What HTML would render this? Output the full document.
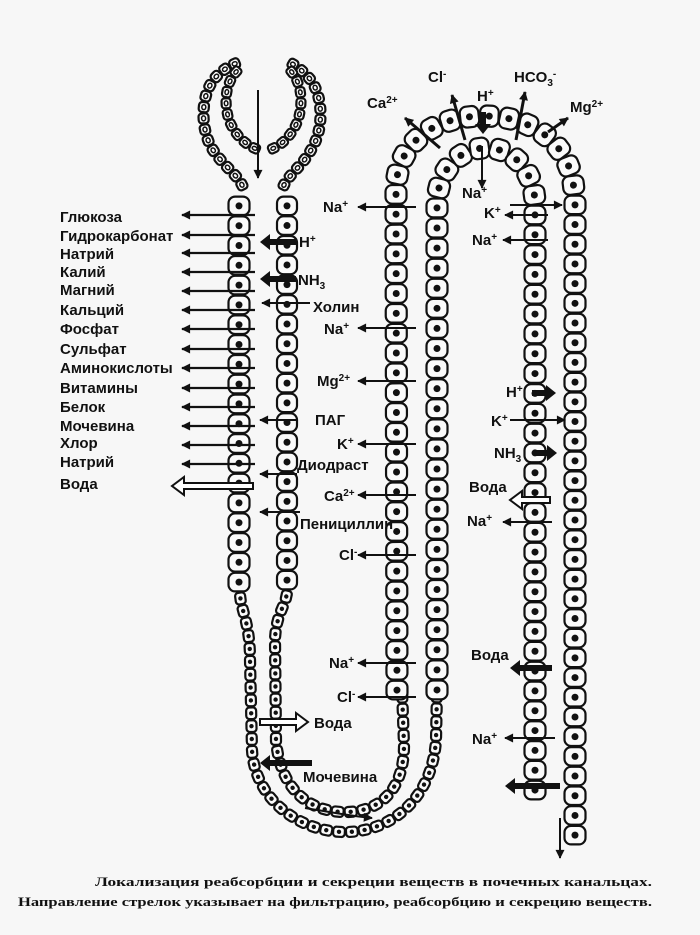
<!DOCTYPE html>
<html><head><meta charset="utf-8">
<style>
html,body{margin:0;padding:0;background:#f7f7f7;}
svg{display:block;}
text{font-family:"Liberation Sans","Noto Sans CJK SC",sans-serif;font-weight:bold;fill:#111;}
.cap{font-family:"Liberation Serif","Noto Serif CJK SC",serif;font-weight:bold;font-size:13px;}
</style></head>
<body>
<svg id="s" width="700" height="935" viewBox="0 0 700 935" xmlns="http://www.w3.org/2000/svg">
<defs>
<marker id="ah" viewBox="0 0 10 10" refX="9" refY="5" markerWidth="13" markerHeight="9" orient="auto-start-reverse" markerUnits="userSpaceOnUse">
<path d="M0,0 L10,5 L0,10 z" fill="#111"/></marker>
</defs>
<g id="cells"></g>
<g id="arrows" stroke="#111" fill="none"></g>
<g font-size="15">
<text x="60" y="222">Глюкоза</text>
<text x="60" y="241">Гидрокарбонат</text>
<text x="60" y="259">Натрий</text>
<text x="60" y="277">Калий</text>
<text x="60" y="295">Магний</text>
<text x="60" y="315">Кальций</text>
<text x="60" y="334">Фосфат</text>
<text x="60" y="354">Сульфат</text>
<text x="60" y="373">Аминокислоты</text>
<text x="60" y="393">Витамины</text>
<text x="60" y="412">Белок</text>
<text x="60" y="431">Мочевина</text>
<text x="60" y="448">Хлор</text>
<text x="60" y="467">Натрий</text>
<text x="60" y="489">Вода</text>

<text x="299" y="247">H<tspan font-size="10" dy="-5">+</tspan></text>
<text x="298" y="285">NH<tspan font-size="10" dy="4">3</tspan></text>
<text x="313" y="312">Холин</text>
<text x="315" y="425">ПАГ</text>
<text x="297" y="470">Диодраст</text>
<text x="300" y="529">Пенициллин</text>

<text x="323" y="212">Na<tspan font-size="10" dy="-5">+</tspan></text>
<text x="324" y="334">Na<tspan font-size="10" dy="-5">+</tspan></text>
<text x="317" y="386">Mg<tspan font-size="10" dy="-5">2+</tspan></text>
<text x="337" y="449">K<tspan font-size="10" dy="-5">+</tspan></text>
<text x="324" y="501">Ca<tspan font-size="10" dy="-5">2+</tspan></text>
<text x="339" y="560">Cl<tspan font-size="10" dy="-5">-</tspan></text>
<text x="329" y="668">Na<tspan font-size="10" dy="-5">+</tspan></text>
<text x="337" y="702">Cl<tspan font-size="10" dy="-5">-</tspan></text>
<text x="314" y="728">Вода</text>
<text x="303" y="782">Мочевина</text>

<text x="367" y="108">Ca<tspan font-size="10" dy="-5">2+</tspan></text>
<text x="428" y="82">Cl<tspan font-size="10" dy="-5">-</tspan></text>
<text x="477" y="101">H<tspan font-size="10" dy="-5">+</tspan></text>
<text x="514" y="82">HCO<tspan font-size="10" dy="4">3</tspan><tspan font-size="10" dy="-9">-</tspan></text>
<text x="570" y="112">Mg<tspan font-size="10" dy="-5">2+</tspan></text>
<text x="462" y="198">Na<tspan font-size="10" dy="-5">+</tspan></text>
<text x="484" y="218">K<tspan font-size="10" dy="-5">+</tspan></text>
<text x="472" y="245">Na<tspan font-size="10" dy="-5">+</tspan></text>
<text x="506" y="397">H<tspan font-size="10" dy="-5">+</tspan></text>
<text x="491" y="426">K<tspan font-size="10" dy="-5">+</tspan></text>
<text x="494" y="458">NH<tspan font-size="10" dy="4">3</tspan></text>
<text x="469" y="492">Вода</text>
<text x="467" y="526">Na<tspan font-size="10" dy="-5">+</tspan></text>
<text x="471" y="660">Вода</text>
<text x="472" y="744">Na<tspan font-size="10" dy="-5">+</tspan></text>
</g>
<text class="cap" x="95" y="886" textLength="557" lengthAdjust="spacingAndGlyphs">Локализация реабсорбции и секреции веществ в почечных канальцах.</text>
<text class="cap" x="18" y="906" textLength="634" lengthAdjust="spacingAndGlyphs">Направление стрелок указывает на фильтрацию, реабсорбцию и секрецию веществ.</text>
</svg>
<script>
var NS="http://www.w3.org/2000/svg";
var cg=document.getElementById("cells"), ag=document.getElementById("arrows");
function el(t,a,p){var e=document.createElementNS(NS,t);for(var k in a)e.setAttribute(k,a[k]);(p||cg).appendChild(e);return e;}
function chain(d,len,w,nr,hollow){
 var p=el("path",{d:d,fill:"none",stroke:"none"});
 var L=p.getTotalLength(),n=Math.max(1,Math.round(L/len)),s=L/n;
 for(var i=0;i<n;i++){
  var t=(i+0.5)*s,a=p.getPointAtLength(t),b=p.getPointAtLength(Math.min(L,t+0.5)),c=p.getPointAtLength(Math.max(0,t-0.5));
  var ang=Math.atan2(b.y-c.y,b.x-c.x)*180/Math.PI;
  var g=el("g",{transform:"translate("+a.x+","+a.y+") rotate("+ang+")"});
  el("rect",{x:-s/2+0.6,y:-w/2,width:s-1.2,height:w,rx:Math.min(s,w)/3,fill:"#fafafa",stroke:"#111","stroke-width":2.2},g);
  if(hollow) el("ellipse",{cx:0,cy:0,rx:s*0.22,ry:w*0.2,fill:"#fff",stroke:"#111","stroke-width":1.5},g);
  else el("circle",{cx:0,cy:0,r:nr,fill:"#111"},g);
 }
}
// Bowman capsule
chain("M244,190 C240,176 225,168 213,150 C200,130 200,95 215,78 C222,70 232,64 240,62",11,10,0,true);
chain("M240,68 C226,80 223,100 229,120 C236,138 250,148 260,150",11,9,0,true);
chain("M282,190 C286,176 301,168 311,150 C324,130 324,95 309,78 C302,70 294,64 288,62",11,10,0,true);
chain("M288,68 C301,80 304,100 298,120 C291,138 278,148 268,150",11,9,0,true);
// proximal tubule
chain("M239,196 L239,592",19.5,21,3.5);
chain("M287,196 L287,590",19.5,20,3.5);
// thin descending / loop
chain("M240,592 C240,610 250,620 250,660 L252,750 C255,800 300,832 345,832 C390,832 432,800 436,740 L437,690",13,10,2.2);
chain("M287,590 C287,605 276,612 275,640 L276,740 C280,790 310,812 345,812 C380,812 404,790 404,745 L402,690",13,10,2.2);
// ascending thick limb + arch
chain("M397,700 L396,190 C396,145 432,116 484,116 C536,116 574,148 574,195",20,21,3.5);
chain("M437,700 L437,205 C437,172 458,148 486,148 C514,148 535,172 535,205",20,21,3.5);
// distal
chain("M535,205 L535,800",20,21,3.5);
chain("M575,195 L575,845",20,21,3.5);

function arr(x1,y1,x2,y2,w){el("line",{x1:x1,y1:y1,x2:x2,y2:y2,"stroke-width":w||2,"marker-end":"url(#ah)"},ag);}
function bold(x1,y,x2){var dir=x2<x1?-1:1;el("line",{x1:x1,y1:y,x2:x2-dir*6,y2:y,"stroke-width":6},ag);
 el("path",{d:"M"+x2+","+y+" L"+(x2-dir*10)+","+(y-8)+" L"+(x2-dir*10)+","+(y+8)+"z",fill:"#111",stroke:"none"},ag);}
function hollowA(x1,y,x2){var dir=x2<x1?-1:1,h=x2-dir*12;
 el("path",{d:"M"+x1+","+(y-3)+" L"+h+","+(y-3)+" L"+h+","+(y-9)+" L"+x2+","+y+" L"+h+","+(y+9)+" L"+h+","+(y+3)+" L"+x1+","+(y+3)+"z",fill:"#fff",stroke:"#111","stroke-width":2},ag);}
arr(258,90,258,178,2);
[215,235,253,272,291,310,329,349,368,388,407,426,445,464].forEach(function(y){arr(255,y,182,y,2.2);});
hollowA(253,486,172);
bold(296,242,260);bold(296,279,260);
arr(310,303,262,303);arr(296,420,260,420);arr(297,474,260,474);arr(300,512,260,512);
[207,328,381,444,495,555,663,697].forEach(function(y){arr(416,y,358,y);});
hollowA(260,722,308);
bold(312,763,260);
el("path",{d:"M305,808 C330,812 350,816 372,818","stroke-width":2,"marker-end":"url(#ah)"},ag);
arr(440,148,405,118,3);arr(465,140,452,95,3);arr(516,140,525,92,3);arr(548,132,568,118,3);
el("line",{x1:483,y1:112,x2:483,y2:124,"stroke-width":6},ag);
el("path",{d:"M475,124 L491,124 L483,134z",fill:"#111",stroke:"none"},ag);
arr(482,146,482,188,2);
arr(510,205,562,205);arr(548,215,505,215);arr(548,240,503,240);
bold(532,393,556);arr(510,420,565,420);bold(535,453,557);
hollowA(550,500,510);arr(552,522,503,522);
bold(552,668,510);arr(555,738,505,738);bold(560,786,505);
arr(560,818,560,858,2);
</script>
</body></html>
